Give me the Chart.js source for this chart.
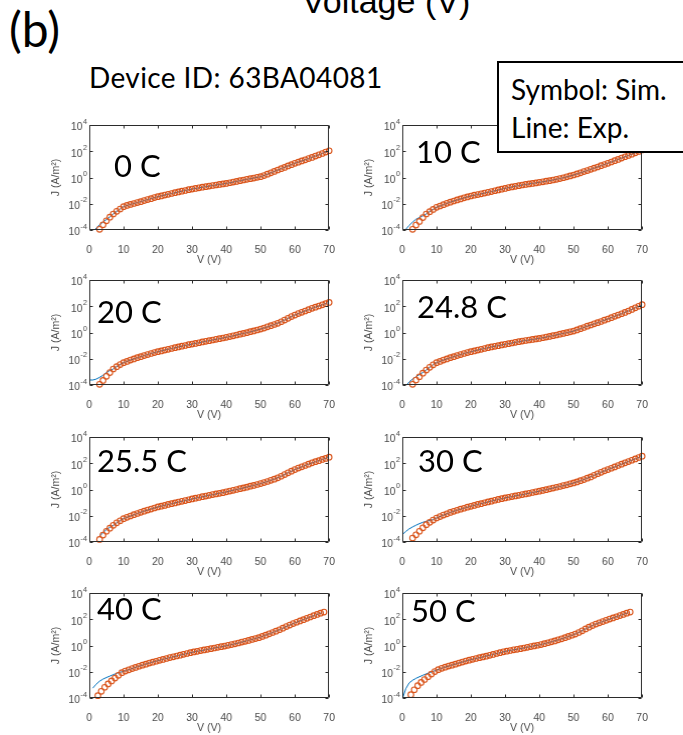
<!DOCTYPE html>
<html>
<head>
<meta charset="utf-8">
<script src="https://cdn.jsdelivr.net/npm/chart.js@4.4.1/dist/chart.umd.min.js"></script>
<style>
  html, body { margin: 0; padding: 0; background: #fff; }
  #page { position: relative; width: 683px; height: 735px; overflow: hidden; background: #fff; }
  .txt { position: absolute; white-space: nowrap; line-height: 1; color: #000;
         font-family: Lato, "Open Sans", sans-serif; z-index: 6; }
  .panel { position: absolute; }
  .panel canvas { display: block; }
  #key { position: absolute; left: 497px; top: 61px; width: 230px; height: 88px;
         border: 2px solid #000; background: #fff; z-index: 5; }
</style>
</head>
<body>
<div id="page">
  <div class="txt" style="left:302px;top:-16px;font-family:'Liberation Sans',Arial,sans-serif;font-size:34px;">Voltage (V)</div>
  <div class="txt" style="left:9px;top:5px;font-size:48px;">(b)</div>
  <div class="txt" style="left:89px;top:63px;font-size:28px;letter-spacing:0.4px;">Device ID: 63BA04081</div>
  <div id="key"></div>
  <div class="txt" style="left:511px;top:75px;font-size:28px;">Symbol: Sim.</div>
  <div class="txt" style="left:511px;top:113px;font-size:28px;">Line: Exp.</div>
</div>
<script>
// ---- voltage sweeps (V) ----
const V_SWEEP_A = [3,4,5,6,7,8,9,10,11,12,13,14,15,16,17,18,19,20,21,22,23,24,25,26,27,28,29,30,31,32,33,34,35,36,37,38,39,40,41,42,43,44,45,46,47,48,49,50,51,52,53,54,55,56,57,58,59,60,61,62,63,64,65,66,67,68,69,70];
const V_SWEEP_B = [2.5,3.5,4.5,5.5,6.5,7.5,8.5,9.5,10.5,11.5,12.5,13.5,14.5,15.5,16.5,17.5,18.5,19.5,20.5,21.5,22.5,23.5,24.5,25.5,26.5,27.5,28.5,29.5,30.5,31.5,32.5,33.5,34.5,35.5,36.5,37.5,38.5,39.5,40.5,41.5,42.5,43.5,44.5,45.5,46.5,47.5,48.5,49.5,50.5,51.5,52.5,53.5,54.5,55.5,56.5,57.5,58.5,59.5,60.5,61.5,62.5,63.5,64.5,65.5,66.5,67.5,68.5];
const V_SWEEP_C = [2.5,3.5,4.5,5.5,6.5,7.5,8.5,9.5,10.5,11.5,12.5,13.5,14.5,15.5,16.5,17.5,18.5,19.5,20.5,21.5,22.5,23.5,24.5,25.5,26.5,27.5,28.5,29.5,30.5,31.5,32.5,33.5,34.5,35.5,36.5,37.5,38.5,39.5,40.5,41.5,42.5,43.5,44.5,45.5,46.5,47.5,48.5,49.5,50.5,51.5,52.5,53.5,54.5,55.5,56.5,57.5,58.5,59.5,60.5,61.5,62.5,63.5,64.5,65.5,66.5];
const V_EXP = [0,1,2,3,4,5,6,7,8,9,10,12,14,16,18,20,22,24,26,28,30,32,34,36,38,40,42,44,46,48,50,52,54,56,58,60,62,64,66,68,70];

// ---- log10 of current density J (A/m^2) ----
// simulated (symbols)
const LOGJ_SIM_0C = [-3.95,-3.6,-3.3,-3.02,-2.78,-2.58,-2.4,-2.22,-2.13,-2.05,-1.98,-1.91,-1.84,-1.76,-1.68,-1.61,-1.53,-1.46,-1.4,-1.34,-1.28,-1.22,-1.16,-1.1,-1.04,-0.99,-0.93,-0.88,-0.83,-0.79,-0.74,-0.7,-0.65,-0.61,-0.57,-0.53,-0.49,-0.45,-0.4,-0.35,-0.3,-0.24,-0.19,-0.14,-0.09,-0.04,0.01,0.06,0.15,0.25,0.36,0.46,0.57,0.67,0.77,0.88,0.98,1.08,1.17,1.26,1.35,1.44,1.53,1.63,1.73,1.83,1.94,2.04];
const LOGJ_SIM_10C = [-3.95,-3.62,-3.35,-3.05,-2.78,-2.6,-2.43,-2.27,-2.17,-2.07,-1.97,-1.88,-1.79,-1.71,-1.63,-1.55,-1.48,-1.41,-1.35,-1.3,-1.24,-1.19,-1.13,-1.07,-1.01,-0.95,-0.89,-0.83,-0.77,-0.72,-0.67,-0.62,-0.57,-0.53,-0.49,-0.45,-0.41,-0.37,-0.33,-0.28,-0.24,-0.19,-0.14,-0.08,-0.02,0.05,0.12,0.19,0.27,0.36,0.45,0.53,0.62,0.71,0.8,0.9,0.99,1.08,1.18,1.28,1.38,1.48,1.58,1.68,1.78,1.88,1.99,2.1];
const LOGJ_SIM_20C = [-3.95,-3.65,-3.34,-3.05,-2.78,-2.6,-2.44,-2.3,-2.2,-2.1,-2.01,-1.92,-1.84,-1.76,-1.68,-1.6,-1.53,-1.46,-1.4,-1.34,-1.28,-1.22,-1.16,-1.1,-1.04,-0.99,-0.93,-0.88,-0.83,-0.78,-0.72,-0.67,-0.62,-0.57,-0.52,-0.47,-0.42,-0.37,-0.31,-0.25,-0.19,-0.13,-0.07,-0.01,0.06,0.12,0.19,0.26,0.34,0.43,0.52,0.61,0.7,0.82,0.95,1.08,1.21,1.33,1.44,1.54,1.64,1.74,1.84,1.93,2.02,2.11,2.2,2.29];
const LOGJ_SIM_248C = [-3.95,-3.62,-3.37,-3.1,-2.86,-2.65,-2.46,-2.3,-2.2,-2.1,-2.01,-1.92,-1.84,-1.76,-1.68,-1.6,-1.53,-1.46,-1.4,-1.34,-1.28,-1.22,-1.16,-1.1,-1.05,-1.0,-0.95,-0.9,-0.85,-0.8,-0.75,-0.7,-0.65,-0.61,-0.57,-0.53,-0.49,-0.45,-0.4,-0.35,-0.3,-0.24,-0.19,-0.13,-0.07,-0.01,0.05,0.11,0.2,0.29,0.38,0.48,0.57,0.66,0.75,0.84,0.94,1.03,1.13,1.23,1.33,1.43,1.53,1.64,1.76,1.88,2.0,2.12];
const LOGJ_SIM_255C = [-3.8,-3.47,-3.18,-2.95,-2.73,-2.54,-2.38,-2.22,-2.12,-2.02,-1.92,-1.83,-1.74,-1.65,-1.57,-1.49,-1.41,-1.33,-1.27,-1.21,-1.14,-1.08,-1.02,-0.96,-0.9,-0.84,-0.78,-0.72,-0.66,-0.61,-0.55,-0.5,-0.44,-0.39,-0.34,-0.29,-0.24,-0.18,-0.12,-0.06,0.0,0.06,0.12,0.18,0.25,0.31,0.38,0.45,0.53,0.61,0.7,0.79,0.89,1.01,1.14,1.27,1.4,1.52,1.63,1.73,1.83,1.93,2.03,2.12,2.2,2.29,2.37,2.46];
const LOGJ_SIM_30C = [-3.7,-3.45,-3.18,-2.92,-2.68,-2.5,-2.33,-2.17,-2.06,-1.95,-1.85,-1.75,-1.66,-1.58,-1.5,-1.43,-1.35,-1.28,-1.21,-1.14,-1.08,-1.01,-0.95,-0.89,-0.82,-0.76,-0.7,-0.64,-0.59,-0.54,-0.49,-0.44,-0.39,-0.34,-0.29,-0.23,-0.18,-0.13,-0.07,-0.01,0.05,0.11,0.17,0.23,0.3,0.36,0.43,0.5,0.58,0.67,0.76,0.86,0.96,1.08,1.2,1.31,1.42,1.52,1.62,1.72,1.83,1.93,2.03,2.13,2.23,2.33,2.44,2.54];
const LOGJ_SIM_40C = [-3.82,-3.49,-3.18,-2.93,-2.7,-2.48,-2.27,-2.07,-1.95,-1.85,-1.76,-1.67,-1.58,-1.5,-1.42,-1.34,-1.27,-1.2,-1.13,-1.06,-0.99,-0.92,-0.86,-0.8,-0.74,-0.67,-0.61,-0.55,-0.49,-0.44,-0.39,-0.34,-0.29,-0.24,-0.19,-0.14,-0.09,-0.04,0.01,0.07,0.13,0.19,0.26,0.32,0.39,0.46,0.53,0.6,0.69,0.79,0.89,0.99,1.09,1.2,1.32,1.44,1.56,1.67,1.77,1.87,1.97,2.07,2.17,2.27,2.37,2.46,2.55];
const LOGJ_SIM_50C = [-3.75,-3.37,-3.06,-2.81,-2.59,-2.38,-2.18,-1.99,-1.84,-1.74,-1.65,-1.57,-1.5,-1.42,-1.34,-1.26,-1.19,-1.12,-1.05,-0.99,-0.93,-0.87,-0.81,-0.75,-0.68,-0.61,-0.55,-0.48,-0.43,-0.38,-0.33,-0.29,-0.24,-0.19,-0.14,-0.08,-0.03,0.02,0.07,0.14,0.21,0.28,0.35,0.43,0.51,0.6,0.69,0.78,0.87,0.99,1.12,1.26,1.4,1.52,1.63,1.73,1.82,1.92,2.01,2.1,2.19,2.28,2.37,2.46,2.55];

// measured (line), sampled on V_EXP; null = no measurement
const LOGJ_EXP_0C = [null,-4.25,-3.85,-3.6,-3.4,-3.2,-3.0,-2.78,-2.58,-2.4,-2.22,-2.05,-1.91,-1.76,-1.61,-1.46,-1.34,-1.22,-1.1,-0.99,-0.88,-0.79,-0.7,-0.61,-0.53,-0.45,-0.35,-0.24,-0.14,-0.04,0.06,0.25,0.46,0.67,0.88,1.08,1.26,1.44,1.63,1.83,2.04];
const LOGJ_EXP_10C = [null,-3.95,-3.65,-3.4,-3.18,-3.05,-2.92,-2.78,-2.6,-2.43,-2.27,-2.07,-1.88,-1.71,-1.55,-1.41,-1.3,-1.19,-1.07,-0.95,-0.83,-0.72,-0.62,-0.53,-0.45,-0.37,-0.28,-0.19,-0.08,0.05,0.19,0.36,0.53,0.71,0.9,1.08,1.28,1.48,1.68,1.88,2.1];
const LOGJ_EXP_20C = [-3.62,-3.62,-3.55,-3.42,-3.25,-3.05,-2.9,-2.78,-2.6,-2.44,-2.3,-2.1,-1.92,-1.76,-1.6,-1.46,-1.34,-1.22,-1.1,-0.99,-0.88,-0.78,-0.67,-0.57,-0.47,-0.37,-0.25,-0.13,-0.01,0.12,0.26,0.43,0.61,0.82,1.08,1.33,1.54,1.74,1.93,2.11,2.29];
const LOGJ_EXP_248C = [null,-4.1,-3.77,-3.55,-3.37,-3.2,-3.05,-2.86,-2.65,-2.46,-2.3,-2.1,-1.92,-1.76,-1.6,-1.46,-1.34,-1.22,-1.1,-1.0,-0.9,-0.8,-0.7,-0.61,-0.53,-0.45,-0.35,-0.24,-0.13,-0.01,0.11,0.29,0.48,0.66,0.84,1.03,1.23,1.43,1.64,1.88,2.12];
const LOGJ_EXP_255C = [null,null,null,-3.55,-3.3,-3.05,-2.88,-2.73,-2.54,-2.38,-2.22,-2.02,-1.83,-1.65,-1.49,-1.33,-1.21,-1.08,-0.96,-0.84,-0.72,-0.61,-0.5,-0.39,-0.29,-0.18,-0.06,0.06,0.18,0.31,0.45,0.61,0.79,1.01,1.27,1.52,1.73,1.93,2.12,2.29,2.46];
const LOGJ_EXP_30C = [-3.44,-3.2,-3.0,-2.85,-2.72,-2.6,-2.5,-2.42,-2.36,-2.3,-2.17,-1.95,-1.75,-1.58,-1.43,-1.28,-1.14,-1.01,-0.89,-0.76,-0.64,-0.54,-0.44,-0.34,-0.23,-0.13,-0.01,0.11,0.23,0.36,0.5,0.67,0.86,1.08,1.31,1.52,1.72,1.93,2.13,2.33,2.54];
const LOGJ_EXP_40C = [null,-3.25,-2.95,-2.72,-2.56,-2.44,-2.33,-2.22,-2.12,-2.04,-1.97,-1.8,-1.62,-1.46,-1.3,-1.16,-1.02,-0.89,-0.77,-0.64,-0.52,-0.42,-0.32,-0.22,-0.12,-0.02,0.1,0.22,0.36,0.5,0.64,0.84,1.04,1.26,1.5,1.72,1.92,2.12,2.32,2.5,null];
const LOGJ_EXP_50C = [-4.1,-3.3,-2.85,-2.65,-2.5,-2.38,-2.27,-2.16,-2.06,-1.97,-1.88,-1.69,-1.53,-1.38,-1.22,-1.08,-0.96,-0.84,-0.71,-0.58,-0.45,-0.35,-0.26,-0.16,-0.05,0.04,0.18,0.32,0.47,0.64,0.82,1.06,1.33,1.58,1.78,1.96,2.15,2.33,2.5,null,null];

// ---- axes ----
const X_TICKS = [0,10,20,30,40,50,60,70];
const Y_TICK_EXPONENTS = [-4,-2,0,2,4];
const PANEL_LABELS = ['0 C','10 C','20 C','24.8 C','25.5 C','30 C','40 C','50 C'];

const PANEL_SERIES = [
  [V_SWEEP_A, LOGJ_SIM_0C,   LOGJ_EXP_0C],
  [V_SWEEP_A, LOGJ_SIM_10C,  LOGJ_EXP_10C],
  [V_SWEEP_A, LOGJ_SIM_20C,  LOGJ_EXP_20C],
  [V_SWEEP_A, LOGJ_SIM_248C, LOGJ_EXP_248C],
  [V_SWEEP_A, LOGJ_SIM_255C, LOGJ_EXP_255C],
  [V_SWEEP_A, LOGJ_SIM_30C,  LOGJ_EXP_30C],
  [V_SWEEP_B, LOGJ_SIM_40C,  LOGJ_EXP_40C],
  [V_SWEEP_C, LOGJ_SIM_50C,  LOGJ_EXP_50C]
];

// ---- layout ----
const COL_LEFT = [89, 402];
const ROW_TOP = [125, 280, 437, 593];
const PLOT_W = 240, PLOT_H = 105;
const Y_AXIS_W = 43, X_AXIS_H = 40, PAD_TOP = 8, PAD_RIGHT = 10;
const LABEL_POS = [[114,177],[416,163],[97,323],[417,318],[97,472],[418,472],[97,620],[411,622]];

const SIM_COLOR = '#D95319';
const EXP_COLOR = '#0072BD';
const FRAME_COLOR = '#2b2b2b';
const TEXT_COLOR = '#4a4a4a';
const AXIS_FONT = '"Liberation Sans", Arial, sans-serif';
const TICK_LEN = 3;

function toPoints(vs, logs) {
  const pts = [];
  vs.forEach((v, i) => {
    const l = logs[i];
    pts.push({ x: v, y: (l === null || l === undefined) ? null : Math.pow(10, l) });
  });
  return pts;
}

// box, inward ticks and 10^n tick labels in the axis style
const axisDecor = {
  id: 'axisDecor',
  afterDatasetsDraw(chart) {
    const { ctx, chartArea: a } = chart;
    const xs = chart.scales.x, ys = chart.scales.y;
    ctx.save();
    ctx.strokeStyle = FRAME_COLOR;
    ctx.lineWidth = 1;
    const L = Math.round(a.left) + 0.5, R = Math.round(a.right) - 0.5;
    const T = Math.round(a.top) + 0.5, B = Math.round(a.bottom) - 0.5;
    ctx.beginPath();
    ctx.rect(L, T, R - L, B - T);
    X_TICKS.forEach(v => {
      const px = Math.round(xs.getPixelForValue(v)) + 0.5;
      ctx.moveTo(px, B); ctx.lineTo(px, B - TICK_LEN);
      ctx.moveTo(px, T); ctx.lineTo(px, T + TICK_LEN);
    });
    Y_TICK_EXPONENTS.forEach(e => {
      const py = Math.round(ys.getPixelForValue(Math.pow(10, e))) + 0.5;
      ctx.moveTo(L, py); ctx.lineTo(L + TICK_LEN, py);
      ctx.moveTo(R, py); ctx.lineTo(R - TICK_LEN, py);
    });
    ctx.stroke();

    ctx.fillStyle = TEXT_COLOR;
    ctx.textBaseline = 'middle';
    Y_TICK_EXPONENTS.forEach(e => {
      const py = ys.getPixelForValue(Math.pow(10, e));
      const sup = String(e);
      ctx.font = '7.5px ' + AXIS_FONT;
      const sw = ctx.measureText(sup).width;
      const xr = a.left - 2;
      ctx.textAlign = 'left';
      ctx.fillText(sup, xr - sw, py - 3.5);
      ctx.font = '10.5px ' + AXIS_FONT;
      ctx.textAlign = 'right';
      ctx.fillText('10', xr - sw - 0.5, py + 2.5);
    });
    ctx.restore();
  }
};

const page = document.getElementById('page');

PANEL_SERIES.forEach(([vs, sim, exp], idx) => {
  const col = idx % 2, row = Math.floor(idx / 2);
  const wrap = document.createElement('div');
  wrap.className = 'panel';
  const canvas = document.createElement('canvas');
  const cw = Y_AXIS_W + PLOT_W + PAD_RIGHT, ch = PAD_TOP + PLOT_H + X_AXIS_H;
  canvas.width = cw; canvas.height = ch;
  canvas.style.width = cw + 'px'; canvas.style.height = ch + 'px';
  wrap.appendChild(canvas);
  page.appendChild(wrap);

  const chart = new Chart(canvas, {
    type: 'scatter',
    data: {
      datasets: [
        {
          label: 'Exp.',
          data: toPoints(V_EXP, exp),
          showLine: true,
          spanGaps: false,
          borderColor: EXP_COLOR,
          borderWidth: 1,
          pointRadius: 0,
          tension: 0,
          order: 2
        },
        {
          label: 'Sim.',
          data: toPoints(vs, sim),
          showLine: false,
          borderColor: SIM_COLOR,
          backgroundColor: 'rgba(0,0,0,0)',
          pointRadius: 2.8,
          pointBorderWidth: 1.1,
          clip: false,
          order: 1
        }
      ]
    },
    options: {
      responsive: false,
      animation: false,
      events: [],
      layout: { padding: { top: PAD_TOP, right: PAD_RIGHT, left: 0, bottom: 0 } },
      plugins: { legend: { display: false }, tooltip: { enabled: false } },
      scales: {
        x: {
          type: 'linear',
          min: 0, max: 70,
          afterBuildTicks: s => { s.ticks = X_TICKS.map(v => ({ value: v })); },
          afterFit: s => { s.height = X_AXIS_H; },
          grid: { display: false },
          border: { display: false },
          ticks: { color: TEXT_COLOR, padding: 6, maxRotation: 0, autoSkip: false,
                   font: { family: AXIS_FONT, size: 10.5 } },
          title: { display: true, text: 'V (V)', color: TEXT_COLOR,
                   font: { family: AXIS_FONT, size: 10.5 }, padding: { top: 4, bottom: 4 } }
        },
        y: {
          type: 'logarithmic',
          min: 1e-4, max: 1e4,
          afterBuildTicks: s => { s.ticks = Y_TICK_EXPONENTS.map(e => ({ value: Math.pow(10, e) })); },
          afterFit: s => { s.width = Y_AXIS_W; },
          grid: { display: false },
          border: { display: false },
          ticks: { display: false },
          title: { display: true, text: 'J (A/m²)', color: TEXT_COLOR,
                   font: { family: AXIS_FONT, size: 10.5 }, padding: { top: 4, bottom: 4 } }
        }
      }
    },
    plugins: [axisDecor]
  });

  // make the plotting box exactly PLOT_W x PLOT_H and place it on the grid
  let a = chart.chartArea;
  const dw = PLOT_W - (a.right - a.left), dh = PLOT_H - (a.bottom - a.top);
  if (Math.abs(dw) > 0.01 || Math.abs(dh) > 0.01) {
    const nw = cw + dw, nh = ch + dh;
    chart.resize(nw, nh);
    canvas.style.width = nw + 'px'; canvas.style.height = nh + 'px';
    a = chart.chartArea;
  }
  wrap.style.left = (COL_LEFT[col] - a.left) + 'px';
  wrap.style.top = (ROW_TOP[row] - a.top) + 'px';

  // panel temperature label
  const lab = document.createElement('div');
  lab.className = 'txt';
  lab.style.fontSize = '31px';
  lab.style.left = LABEL_POS[idx][0] + 'px';
  lab.style.top = (LABEL_POS[idx][1] - 27.5) + 'px';
  lab.textContent = PANEL_LABELS[idx];
  page.appendChild(lab);
});
</script>
</body>
</html>
